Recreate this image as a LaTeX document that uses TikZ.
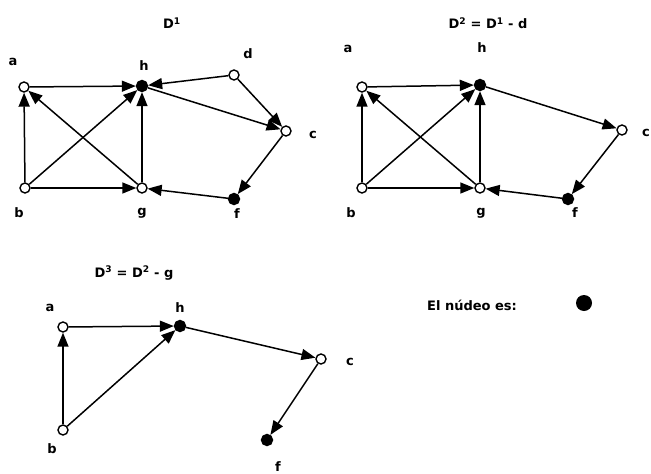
\documentclass[tikz,border=0pt]{standalone}
\usepackage{fontspec}
\setmainfont{DejaVu Sans}
\usetikzlibrary{arrows.meta}
\begin{document}
\begin{tikzpicture}[x=1pt,y=-1pt,
  vtx/.style={circle,draw,line width=1.4pt,fill=white,minimum size=10pt,inner sep=0pt},
  ker/.style={circle,draw,line width=1.4pt,fill=black,minimum size=11pt,inner sep=0pt},
  lbl/.style={font=\bfseries\fontsize{13}{15}\selectfont,inner sep=0pt},
  ttl/.style={font=\bfseries\fontsize{13}{15}\selectfont,inner sep=0pt},
  arc/.style={line width=1.5pt,-{Triangle[length=14pt,width=11pt]},shorten >=0pt}]
\useasboundingbox (0,0) rectangle (651,474);
% ---------- D1 ----------
\node[ttl] (t1) at (172,23) {D\textsuperscript{1}};
\node[vtx] (a1) at (24,87) {};
\node[ker] (h1) at (142,86) {};
\node[vtx] (d1) at (234,75) {};
\node[vtx] (c1) at (286,131) {};
\node[vtx] (b1) at (25,188) {};
\node[vtx] (g1) at (142,188) {};
\node[ker] (f1) at (234,199) {};
\node[lbl] (la1) at (13,62) {a};
\node[lbl] (lh1) at (144,66) {h};
\node[lbl] (ld1) at (248,54) {d};
\node[lbl] (lc1) at (313,135) {c};
\node[lbl] (lb1) at (19,213) {b};
\node[lbl] (lg1) at (142,213) {g};
\node[lbl] (lf1) at (237,214) {f};
\draw[arc] (a1) -- (h1);
\draw[arc] (b1) -- (a1);
\draw[arc] (b1) -- (h1);
\draw[arc] (b1) -- (g1);
\draw[arc] (g1) -- (a1);
\draw[arc] (g1) -- (h1);
\draw[arc] (d1) -- (h1);
\draw[arc] (d1) -- (c1);
\draw[arc] (h1) -- (c1);
\draw[arc] (c1) -- (f1);
\draw[arc] (f1) -- (g1);
% ---------- D2 ----------
\node[ttl] (t2) at (488,23) {D\textsuperscript{2} = D\textsuperscript{1} - d};
\node[vtx] (a2) at (362,87) {};
\node[ker] (h2) at (480,85) {};
\node[vtx] (c2) at (622,130) {};
\node[vtx] (b2) at (362,188) {};
\node[vtx] (g2) at (480,188) {};
\node[ker] (f2) at (568,199) {};
\node[lbl] (la2) at (348,49) {a};
\node[lbl] (lh2) at (482,48) {h};
\node[lbl] (lc2) at (646,133) {c};
\node[lbl] (lb2) at (351,213) {b};
\node[lbl] (lg2) at (481,213) {g};
\node[lbl] (lf2) at (575,213) {f};
\draw[arc] (a2) -- (h2);
\draw[arc] (b2) -- (a2);
\draw[arc] (b2) -- (h2);
\draw[arc] (b2) -- (g2);
\draw[arc] (g2) -- (a2);
\draw[arc] (g2) -- (h2);
\draw[arc] (h2) -- (c2);
\draw[arc] (c2) -- (f2);
\draw[arc] (f2) -- (g2);
% ---------- D3 ----------
\node[ttl] (t3) at (134,273) {D\textsuperscript{3} = D\textsuperscript{2} - g};
\node[vtx] (a3) at (63,327) {};
\node[ker] (h3) at (180,326) {};
\node[vtx] (c3) at (321,359) {};
\node[vtx] (b3) at (63,430) {};
\node[ker] (f3) at (267,440) {};
\node[lbl] (la3) at (50,308) {a};
\node[lbl] (lh3) at (180,308) {h};
\node[lbl] (lc3) at (350,362) {c};
\node[lbl] (lb3) at (52,449) {b};
\node[lbl] (lf3) at (278,467) {f};
\draw[arc] (a3) -- (h3);
\draw[arc] (b3) -- (a3);
\draw[arc] (b3) -- (h3);
\draw[arc] (h3) -- (c3);
\draw[arc] (c3) -- (f3);
% ---------- legend ----------
\node[ttl] (leg) at (472,305) {El núdeo es:};
\node[circle,fill=black,minimum size=16pt,inner sep=0pt] (kdot) at (584,303) {};
\end{tikzpicture}
\end{document}
